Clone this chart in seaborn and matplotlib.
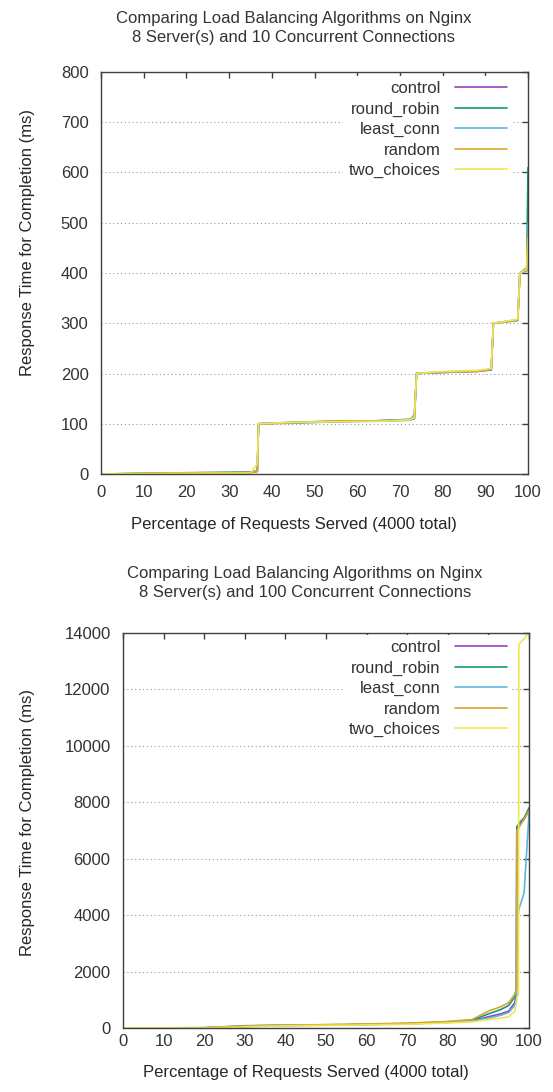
import pandas as pd
import matplotlib
matplotlib.use("Agg")
import matplotlib.pyplot as plt
import seaborn as sns

names = ["control", "round_robin", "least_conn", "random", "two_choices"]
colors = ["#9b3fc0", "#119a7a", "#5ab8e0", "#d9a530", "#eee650"]

# chart 1: 10 concurrent connections
pct_10 = [0, 15, 35, 36.6, 36.9, 45, 55, 65, 72.5, 73.4, 73.9, 80, 88, 91.4, 91.9, 97.6, 98.1, 99.7, 100]
control_10 = [0, 1, 3, 5, 100, 102, 104, 106, 108, 110, 200, 202, 204, 207, 300, 306, 400, 405, 460]
round_robin_10 = [0, 2, 4, 6, 100, 103, 105, 106, 109, 112, 200, 203, 205, 208, 300, 307, 400, 410, 610]
least_conn_10 = [0, 1, 3, 6, 100, 101, 104, 105, 107, 120, 200, 202, 205, 208, 300, 305, 400, 404, 500]
random_10 = [0, 2, 3, 5, 100, 102, 106, 105, 108, 115, 200, 203, 204, 209, 300, 306, 400, 406, 480]
two_choices_10 = [0, 1, 2, 20, 100, 103, 104, 105, 108, 112, 200, 204, 206, 210, 300, 308, 400, 408, 470]

# chart 2: 100 concurrent connections
pct_100 = [0, 20, 30, 40, 55, 70, 80, 86, 90, 93, 95, 96.5, 96.9, 97.0, 97.4, 97.5, 98.8, 100]
control_100 = [0, 5, 60, 90, 110, 150, 200, 250, 400, 500, 600, 900, 1200, 7100, 7150, 7200, 7400, 7700]
round_robin_100 = [0, 10, 80, 100, 120, 160, 220, 280, 500, 650, 800, 1100, 1400, 7150, 7200, 7250, 7450, 7800]
least_conn_100 = [0, 5, 50, 90, 110, 150, 200, 240, 350, 450, 550, 800, 1000, 3600, 4100, 4200, 4800, 7600]
random_100 = [0, 10, 70, 100, 130, 170, 230, 300, 600, 750, 900, 1200, 1400, 7000, 7050, 7100, 7400, 7700]
two_choices_100 = [0, 0, 40, 80, 100, 130, 180, 220, 300, 350, 400, 600, 900, 1050, 1200, 13600, 13800, 14000]


def long_df(pct, series):
    rows = []
    for name, vals in zip(names, series):
        for p, v in zip(pct, vals):
            rows.append({"pct": p, "ms": v, "series": name})
    return pd.DataFrame(rows)


df10 = long_df(pct_10, [control_10, round_robin_10, least_conn_10, random_10, two_choices_10])
df100 = long_df(pct_100, [control_100, round_robin_100, least_conn_100, random_100, two_choices_100])

sns.set_style("white")
plt.rcParams["font.family"] = ["Liberation Sans", "DejaVu Sans"]
plt.rcParams["font.size"] = 12
plt.rcParams["text.color"] = "#333333"
plt.rcParams["xtick.color"] = "#404040"
plt.rcParams["ytick.color"] = "#404040"
plt.rcParams["xtick.labelcolor"] = "#333333"
plt.rcParams["ytick.labelcolor"] = "#333333"

W, H = 553, 1092
fig = plt.figure(figsize=(W / 100, H / 100), dpi=100)
ax1 = fig.add_axes([101 / W, 1 - 474 / H, 427 / W, 402 / H])
ax2 = fig.add_axes([123 / W, 1 - 1028 / H, 406 / W, 395 / H])

palette = dict(zip(names, colors))


def draw(ax, df, ymax, ystep, title, tx, ty, xpad, xlab_pos, ylab_pos, leg_anchor):
    sns.lineplot(data=df, x="pct", y="ms", hue="series", hue_order=names,
                 palette=palette, estimator=None, sort=False, legend=False,
                 linewidth=1.2, ax=ax, zorder=6)
    ax.set_xlim(0, 100)
    ax.set_ylim(0, ymax)
    ax.set_xticks(range(0, 101, 10))
    ax.set_yticks(range(0, ymax + 1, ystep))
    ax.tick_params(direction="in", length=4.5, width=1, top=True, right=True,
                   labelsize=12)
    ax.tick_params(axis="y", pad=9)
    ax.tick_params(axis="x", pad=xpad)
    ax.yaxis.grid(True, linestyle=(0, (1, 2.5)), color="#999999", linewidth=0.8)
    ax.xaxis.grid(False)
    for s in ax.spines.values():
        s.set_color("#404040")
        s.set_linewidth(1)
        s.set_zorder(7)
    ax.set_xlabel("Percentage of Requests Served (4000 total)", fontsize=12, va="center")
    ax.xaxis.set_label_coords(*xlab_pos)
    ax.set_ylabel("Response Time for Completion (ms)", fontsize=12, va="center")
    ax.yaxis.set_label_coords(*ylab_pos)
    leg = ax.legend(ax.get_lines()[:5], names, loc="upper right",
                    bbox_to_anchor=leg_anchor, markerfirst=False,
                    frameon=True, fancybox=False, edgecolor="none", facecolor="white",
                    framealpha=1, fontsize=12, handlelength=3.1, handletextpad=0.9,
                    labelspacing=0.33, borderaxespad=0.0, borderpad=0.3)
    leg.set_zorder(5)
    fig.text(tx / W, 1 - ty / H, title, ha="center", va="center", fontsize=12,
             linespacing=1.3)


draw(ax1, df10, 800, 100,
     "Comparing Load Balancing Algorithms on Nginx\n8 Server(s) and 10 Concurrent Connections",
     294, 28, 8,
     ((294 - 101) / 427, -(525 - 474) / 402),
     ((27 - 101) / 427, (474 - 242) / 402),
     ((512 - 101) / 427, 1 - 4 / 402))
draw(ax2, df100, 14000, 2000,
     "Comparing Load Balancing Algorithms on Nginx\n8 Server(s) and 100 Concurrent Connections",
     305, 583, 4,
     ((306 - 123) / 406, -(1072 - 1028) / 395),
     ((28 - 123) / 406, (1028 - 823) / 395),
     ((512 - 123) / 406, 1 - 2 / 395))

fig.savefig("out.png", dpi=100)
